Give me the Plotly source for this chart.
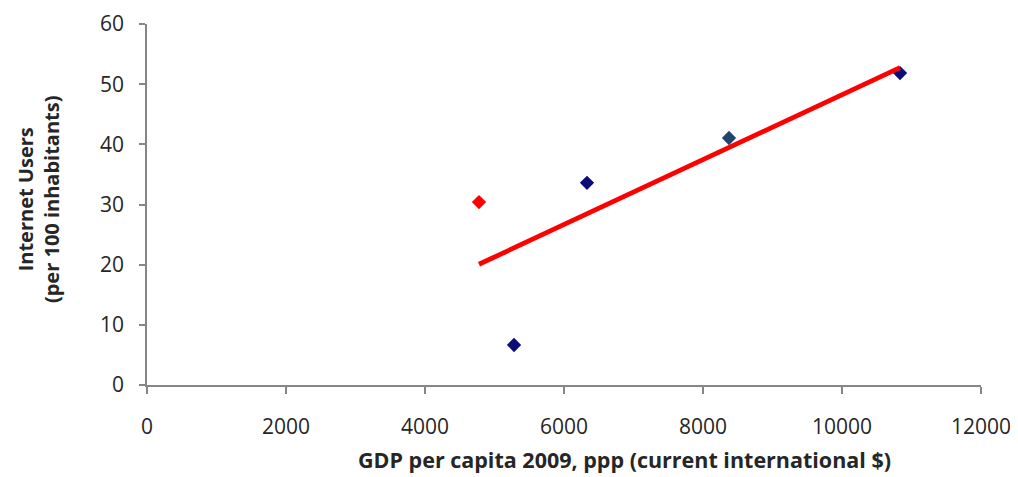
import numpy as np
import plotly.graph_objects as go

# Data
gdp_highlight = [4777]
users_highlight = [30.4]
gdp_others = [5281, 6331, 8374, 10835]
users_others = [6.65, 33.6, 41.05, 51.85]
other_colors = ["#0B0B7A", "#0B0B7A", "#1F4470", "#0B0B7A"]

x_ticks = [0, 2000, 4000, 6000, 8000, 10000, 12000]
x_tick_text = ["0", "2000", "4000", "6000", "8000", "10000", "12000"]
y_ticks = [0, 10, 20, 30, 40, 50, 60]

x_title = "GDP per capita 2009, ppp (current international $)"
y_title = "Internet Users<br>(per 100 inhabitants)"

# Linear trend fitted through all points
all_x = np.array(gdp_highlight + gdp_others, dtype=float)
all_y = np.array(users_highlight + users_others, dtype=float)
slope, intercept = np.polyfit(all_x, all_y, 1)
trend_x = np.array([all_x.min(), all_x.max()])
trend_y = slope * trend_x + intercept

font_family = "Open Sans, Lato, sans-serif"
text_color = "#262626"

fig = go.Figure()
fig.add_trace(go.Scatter(
    x=gdp_others, y=users_others, mode="markers",
    marker=dict(symbol="diamond", size=11, color=other_colors, line=dict(width=0)),
    showlegend=False,
))
fig.add_trace(go.Scatter(
    x=gdp_highlight, y=users_highlight, mode="markers",
    marker=dict(symbol="diamond", size=11, color="#FF0000", line=dict(width=0)),
    showlegend=False,
))
fig.add_trace(go.Scatter(
    x=trend_x, y=trend_y, mode="lines",
    line=dict(color="#FF0000", width=4.8),
    showlegend=False,
))

fig.update_layout(
    width=1010, height=469,
    margin=dict(l=139, r=37, t=16, b=92, autoexpand=False),
    paper_bgcolor="white", plot_bgcolor="white",
    font=dict(family=font_family, size=20, color=text_color),
    xaxis=dict(
        range=[0, 12000], tickvals=x_ticks, ticktext=x_tick_text,
        showgrid=False, zeroline=False, automargin=False,
        showline=True, linecolor="#868686", linewidth=1.5,
        ticks="outside", ticklen=7, tickcolor="#868686", tickwidth=1.5,
        ticklabelstandoff=15,
        tickfont=dict(size=21, color=text_color),
    ),
    yaxis=dict(
        range=[0, 60], tickvals=y_ticks, showgrid=False, zeroline=False,
        automargin=False,
        showline=True, linecolor="#868686", linewidth=1.5,
        ticks="outside", ticklen=6, tickcolor="#868686", tickwidth=1.5,
        ticklabelstandoff=11,
        tickfont=dict(size=21, color=text_color),
    ),
    annotations=[
        dict(text="<b>" + x_title + "</b>", xref="paper", yref="paper",
             x=0.5726, y=-0.252, xanchor="center", yanchor="bottom",
             showarrow=False, font=dict(size=21.5, color=text_color)),
        dict(text="<b>" + y_title + "</b>", xref="paper", yref="paper",
             x=-0.1307, y=0.515, xanchor="center", yanchor="middle", textangle=-90,
             showarrow=False, font=dict(size=20, color=text_color)),
    ],
)

fig.write_html("out.html")
